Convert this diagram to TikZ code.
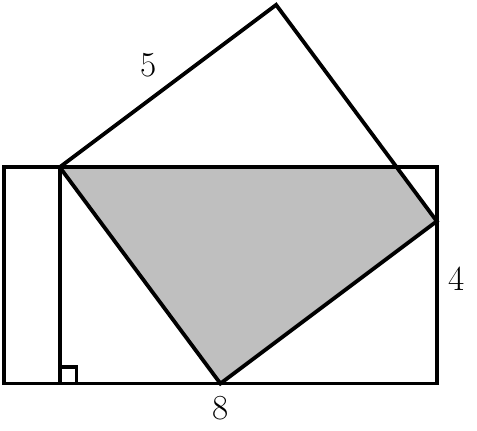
\documentclass[tikz,border=0pt]{standalone}
\usetikzlibrary{calc}
\begin{document}
\begin{tikzpicture}[x=1cm,y=1cm,
  edge/.style={line width=2pt},
  lbl/.style={font=\fontsize{18.5}{22}\selectfont, inner sep=0pt}]
\useasboundingbox (-0.074,-0.86) rectangle (8.743,7.09);
\coordinate (O) at (0,0);
\coordinate (R) at (8,4);
\coordinate (A) at (1.03,4);
\coordinate (B) at (4,0);
\coordinate (C) at (8,3);
\coordinate (D) at (5.03,7);
\coordinate (E) at (7.26,4);
\coordinate (F) at (1.03,0);
\fill[black!25] (A) -- (B) -- (C) -- (E) -- cycle;
\draw[edge] (O) rectangle (R);
\draw[edge] (A) -- (B) -- (C) -- (D) -- cycle;
\draw[edge] (A) -- (F);
\draw[edge] (F) rectangle ++(0.31,0.31);
\node[lbl] (l5) at (2.67,5.89) {5};
\node[lbl] (l4) at (8.36,1.93) {4};
\node[lbl] (l8) at (4,-0.46) {8};
\end{tikzpicture}
\end{document}
